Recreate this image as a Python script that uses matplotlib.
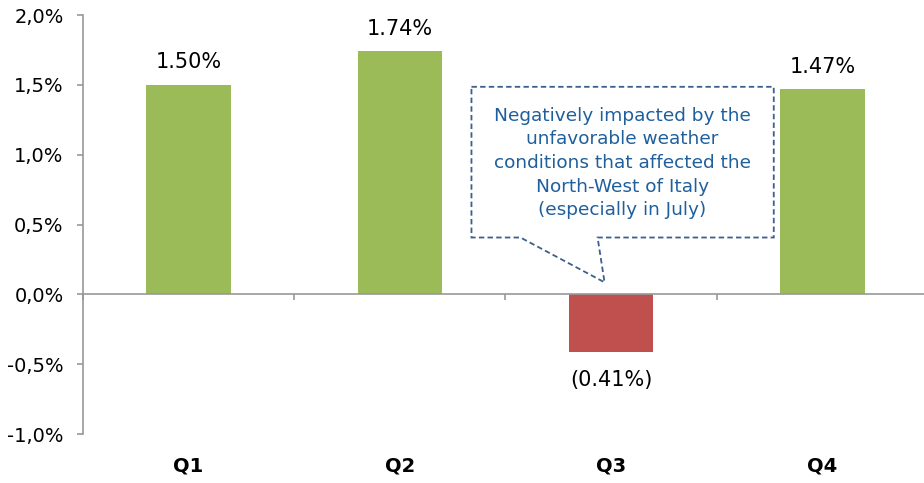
import numpy as np
import matplotlib.pyplot as plt
from matplotlib.patches import Polygon

quarters = ["Q1", "Q2", "Q3", "Q4"]
growth = [1.50, 1.74, -0.41, 1.47]
labels = ["1.50%", "1.74%", "(0.41%)", "1.47%"]
yticks = [-1.0, -0.5, 0.0, 0.5, 1.0, 1.5, 2.0]
note = ("Negatively impacted by the\nunfavorable weather\n"
        "conditions that affected the\nNorth-West of Italy\n(especially in July)")

green = "#9BBB59"
red = "#C0504D"
grey = "#989898"

fig = plt.figure(figsize=(9.24, 4.83), dpi=100)
ax = fig.add_axes([0.0898, 0.1014, 0.9145, 0.8675])

x = np.arange(len(quarters))
colors = [green if v >= 0 else red for v in growth]
ax.bar(x, growth, width=0.4, color=colors, zorder=2)

for xi, v, lab in zip(x, growth, labels):
    if v >= 0:
        ax.annotate(lab, (xi, v), xytext=(0, 9), textcoords="offset points",
                    ha="center", va="bottom", fontsize=15)
    else:
        ax.annotate(lab, (xi, v), xytext=(0, -13), textcoords="offset points",
                    ha="center", va="top", fontsize=15)

ax.set_xlim(-0.5, len(quarters) - 0.5)
ax.set_ylim(-1.0, 2.0)
ax.set_yticks(yticks)
ax.set_yticklabels([("%.1f%%" % t).replace(".", ",") for t in yticks], fontsize=14)

# category axis sits on zero, labels at the bottom
ax.spines["bottom"].set_position(("data", 0))
ax.set_xticks(np.arange(len(quarters) + 1) - 0.5)
ax.set_xticklabels([])
for i, q in enumerate(quarters):
    ax.annotate(q, (i, -1.0), xytext=(0, -16), textcoords="offset points",
                ha="center", va="top", fontsize=14, fontweight="bold")

for s in ["top", "right"]:
    ax.spines[s].set_visible(False)
for s in ["left", "bottom"]:
    ax.spines[s].set_color(grey)
    ax.spines[s].set_linewidth(1.2)
ax.tick_params(axis="both", direction="out", length=4, width=1.2, color=grey)
ax.tick_params(axis="y", pad=10)

# dashed callout for Q3
box = [(1.339, 1.486), (2.77, 1.486), (2.77, 0.407), (1.936, 0.407),
       (1.969, 0.086), (1.571, 0.407), (1.339, 0.407)]
ax.add_patch(Polygon(box, closed=True, facecolor="white", edgecolor="#3C5F8C",
                     linestyle=(0, (3, 1.8)), linewidth=1.3, zorder=3))
ax.text(2.054, 0.94, note, ha="center", va="center", fontsize=13.3,
        color="#1F5F9C", linespacing=1.4, zorder=4)

fig.savefig("out.png")
